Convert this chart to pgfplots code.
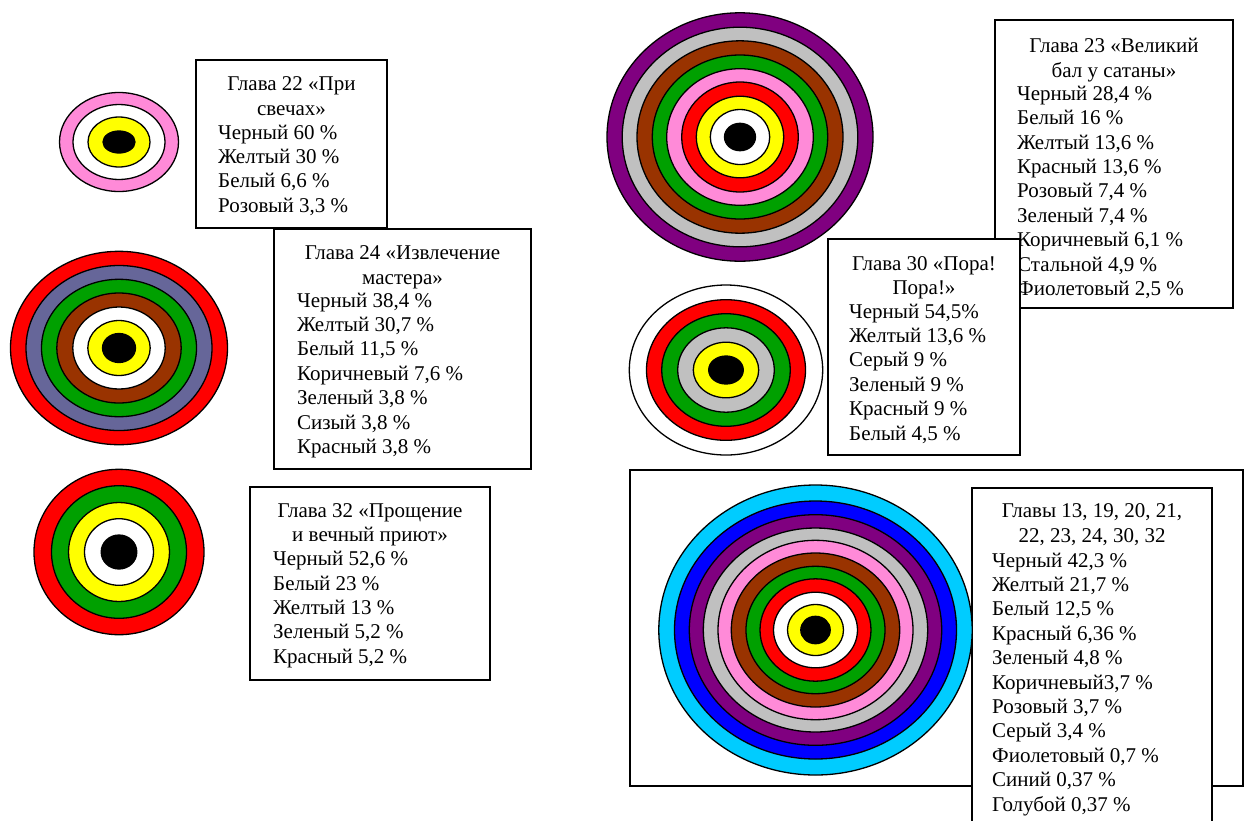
\documentclass[border=0pt]{standalone}
\usepackage{fontspec}
\setmainfont{Liberation Serif}
\usepackage{pgfplots}
\pgfplotsset{compat=1.18}

\definecolor{cPink}{RGB}{255,138,216}
\definecolor{cYellow}{RGB}{255,255,0}
\definecolor{cRed}{RGB}{255,0,0}
\definecolor{cGreen}{RGB}{0,160,0}
\definecolor{cBrown}{RGB}{153,51,0}
\definecolor{cSlate}{RGB}{102,102,153}
\definecolor{cSilver}{RGB}{192,192,192}
\definecolor{cPurple}{RGB}{128,0,128}
\definecolor{cBlue}{RGB}{0,0,255}
\definecolor{cCyan}{RGB}{0,204,255}

\newcommand{\tb}{\fontsize{21}{24.4}\selectfont}
% one ring: centre x, centre y, radius x, radius y, colour
\newcommand{\ring}[5]{\addplot[only marks, mark=*, mark size=#3pt,
  mark options={draw=black, line width=1.3pt, fill=#5, yscale=#4/#3}]
  coordinates {(#1,#2)};}
\newcommand{\frm}[4]{\draw[line width=1.6pt, fill=white] (axis cs:#1,#2) rectangle (axis cs:#3,#4);}

\begin{document}
\begin{tikzpicture}
\begin{axis}[
    width=1248pt, height=820pt, scale only axis,
    xmin=0, xmax=1248, ymin=0, ymax=820, y dir=reverse,
    hide axis, clip=false,
]
% Glava 22
\ring{119}{142}{59.5}{49.5}{cPink}
\ring{119}{142}{46}{37.5}{white}
\ring{119}{142}{31}{25}{cYellow}
\ring{119}{142}{16}{11}{black}
% Glava 24
\ring{119}{348}{108.5}{96.7}{cRed}
\ring{119}{348}{93}{82.5}{cSlate}
\ring{119}{348}{77.5}{68.7}{cGreen}
\ring{119}{348}{62.2}{55}{cBrown}
\ring{119}{348}{46.2}{41}{white}
\ring{119}{348}{31.2}{27.5}{cYellow}
\ring{119}{348}{16.5}{14.5}{black}
% Glava 32
\ring{119}{552}{85}{82.7}{cRed}
\ring{119}{552}{67.5}{66.3}{cGreen}
\ring{119}{552}{50.5}{49.5}{cYellow}
\ring{119}{552}{34.5}{33.3}{white}
\ring{119}{552}{17.8}{17}{black}
% Glava 23
\ring{740}{137}{133}{124.2}{cPurple}
\ring{740}{137}{117.8}{109.8}{cSilver}
\ring{740}{137}{103}{96.2}{cBrown}
\ring{740}{137}{87.7}{82}{cGreen}
\ring{740}{137}{73.3}{68.3}{cPink}
\ring{740}{137}{58.3}{55}{cRed}
\ring{740}{137}{43.7}{40.8}{cYellow}
\ring{740}{137}{29.7}{27.5}{white}
\ring{740}{137}{15.5}{13.7}{black}
% Glava 30
\ring{726}{370}{96.7}{85}{white}
\ring{726}{370}{79.5}{70.3}{cRed}
\ring{726}{370}{64.3}{56.3}{cGreen}
\ring{726}{370}{48.3}{42.2}{cSilver}
\ring{726}{370}{32.7}{27.8}{cYellow}
\ring{726}{370}{17.3}{14}{black}

% text boxes
\frm{196}{60}{387}{228}
\node[anchor=north, align=center, font=\tb, inner sep=0pt] at (axis cs:291.5,73.4) {\strut Глава 22 «При\\свечах»};
\node[anchor=north west, align=left, font=\tb, inner sep=0pt] at (axis cs:218,121.9) {\strut Черный 60 \%\\Желтый 30 \%\\Белый 6,6 \%\\Розовый 3,3 \%};

\frm{274}{229}{531}{469}
\node[anchor=north, align=center, font=\tb, inner sep=0pt] at (axis cs:402.5,242.4) {\strut Глава 24 «Извлечение\\мастера»};
\node[anchor=north west, align=left, font=\tb, inner sep=0pt] at (axis cs:297,289.9) {\strut Черный 38,4 \%\\Желтый 30,7 \%\\Белый 11,5 \%\\Коричневый 7,6 \%\\Зеленый 3,8 \%\\Сизый 3,8 \%\\Красный 3,8 \%};

\frm{250}{487}{490}{680}
\node[anchor=north, align=center, font=\tb, inner sep=0pt] at (axis cs:370,499.9) {\strut Глава 32 «Прощение\\и вечный приют»};
\node[anchor=north west, align=left, font=\tb, inner sep=0pt] at (axis cs:273,548.4) {\strut Черный 52,6 \%\\Белый 23 \%\\Желтый 13 \%\\Зеленый 5,2 \%\\Красный 5,2 \%};

\frm{995}{20}{1233}{308}
\node[anchor=north, align=center, font=\tb, inner sep=0pt] at (axis cs:1114,35.4) {\strut Глава 23 «Великий\\бал у сатаны»};
\node[anchor=north west, align=left, font=\tb, inner sep=0pt] at (axis cs:1017,83.1) {\strut Черный 28,4 \%\\Белый 16 \%\\Желтый 13,6 \%\\Красный 13,6 \%\\Розовый 7,4 \%\\Зеленый 7,4 \%\\Коричневый 6,1 \%\\Стальной 4,9 \%\\Фиолетовый 2,5 \%};

\frm{828}{239}{1020}{455}
\node[anchor=north, align=center, font=\tb, inner sep=0pt] at (axis cs:924,252.9) {\strut Глава 30 «Пора!\\Пора!»};
\node[anchor=north west, align=left, font=\tb, inner sep=0pt] at (axis cs:849,300.9) {\strut Черный 54,5\%\\Желтый 13,6 \%\\Серый 9 \%\\Зеленый 9 \%\\Красный 9 \%\\Белый 4,5 \%};

% all chapters
\frm{630}{470}{1243}{786}
\ring{815.5}{630}{156.7}{145}{cCyan}
\ring{815.5}{630}{141}{129}{cBlue}
\ring{815.5}{630}{126.2}{115.3}{cPurple}
\ring{815.5}{630}{112.2}{102}{cSilver}
\ring{815.5}{630}{97.5}{89.7}{cPink}
\ring{815.5}{630}{84.2}{77}{cBrown}
\ring{815.5}{630}{69.5}{63.7}{cGreen}
\ring{815.5}{630}{55.5}{51.2}{cRed}
\ring{815.5}{630}{42}{37.8}{white}
\ring{815.5}{630}{28}{25.5}{cYellow}
\ring{815.5}{630}{14.7}{13.7}{black}
\frm{972}{488}{1212}{840}
\node[anchor=north, align=center, font=\tb, inner sep=0pt] at (axis cs:1092,500.6) {\strut Главы 13, 19, 20, 21,\\22, 23, 24, 30, 32};
\node[anchor=north west, align=left, font=\tb, inner sep=0pt] at (axis cs:992,549.9) {\strut Черный 42,3 \%\\Желтый 21,7 \%\\Белый 12,5 \%\\Красный 6,36 \%\\Зеленый 4,8 \%\\Коричневый3,7 \%\\Розовый 3,7 \%\\Серый 3,4 \%\\Фиолетовый 0,7 \%\\Синий 0,37 \%\\Голубой 0,37 \%};
\end{axis}
\pgfresetboundingbox
\useasboundingbox (0,0) rectangle (1248pt,820pt);
\end{tikzpicture}
\end{document}
